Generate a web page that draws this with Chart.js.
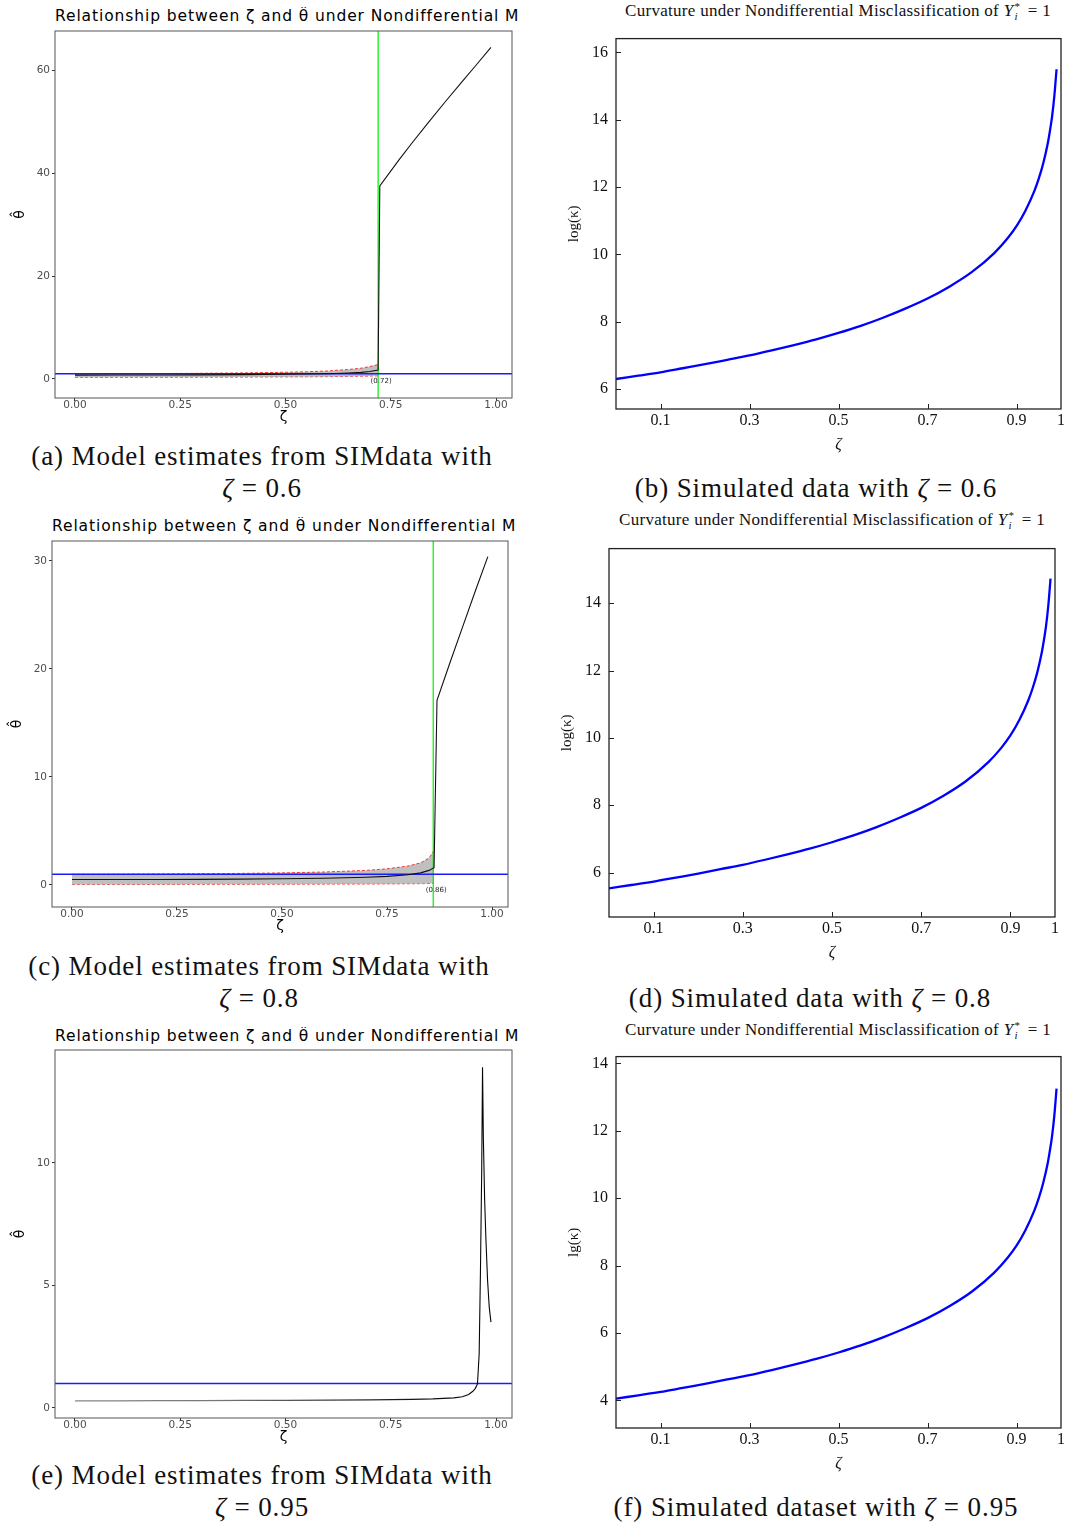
<!DOCTYPE html>
<html>
<head>
<meta charset="utf-8">
<script src="https://cdn.jsdelivr.net/npm/chart.js@4.4.0/dist/chart.umd.min.js"></script>
<style>
  body { margin: 0; background: #fff; width: 1071px; height: 1522px; position: relative; overflow: hidden; }
  canvas { position: absolute; }
  .ttl-l { position: absolute; font-family: "DejaVu Sans"; font-size: 15.5px; letter-spacing: 0.9px; line-height: 18px; white-space: nowrap; overflow: hidden; color: #000; }
  .ttl-r { position: absolute; font-family: "Liberation Serif"; font-size: 17px; letter-spacing: 0.3px; line-height: 20px; white-space: nowrap; transform: translateX(-50%); color: #111; }
  .ss { display: inline-flex; flex-direction: column; font-size: 11px; line-height: 10px; vertical-align: 6px; margin-right: 3px; margin-left: 1px; }
  .cap { position: absolute; font-family: "Liberation Serif"; font-size: 27px; letter-spacing: 0.9px; line-height: 32px; white-space: nowrap; text-align: center; transform: translateX(-50%); color: #111; }
</style>
</head>
<body>
<div class="ttl-l" style="left:55px;top:7px;width:463px">Relationship between ζ and θ̂ under Nondifferential Misclassification</div>
<div class="ttl-l" style="left:52px;top:517px;width:463px">Relationship between ζ and θ̂ under Nondifferential Misclassification</div>
<div class="ttl-l" style="left:55px;top:1027px;width:463px">Relationship between ζ and θ̂ under Nondifferential Misclassification</div>

<div class="ttl-r" style="left:838px;top:1px">Curvature under Nondifferential Misclassification of <i>Y</i><span class="ss"><span>*</span><i>i</i></span> = 1</div>
<div class="ttl-r" style="left:832px;top:510px">Curvature under Nondifferential Misclassification of <i>Y</i><span class="ss"><span>*</span><i>i</i></span> = 1</div>
<div class="ttl-r" style="left:838px;top:1020px">Curvature under Nondifferential Misclassification of <i>Y</i><span class="ss"><span>*</span><i>i</i></span> = 1</div>

<div class="cap" style="left:262px;top:440px">(a) Model estimates from SIMdata with<br><i>ζ</i> = 0.6</div>
<div class="cap" style="left:816px;top:472px">(b) Simulated data with <i>ζ</i> = 0.6</div>
<div class="cap" style="left:259px;top:950px">(c) Model estimates from SIMdata with<br><i>ζ</i> = 0.8</div>
<div class="cap" style="left:810px;top:982px">(d) Simulated data with <i>ζ</i> = 0.8</div>
<div class="cap" style="left:262px;top:1459px">(e) Model estimates from SIMdata with<br><i>ζ</i> = 0.95</div>
<div class="cap" style="left:816px;top:1491px">(f) Simulated dataset with <i>ζ</i> = 0.95</div>

<script>
// shared axes for the left (ggplot) panels
const xTicksLeft = [0, 0.25, 0.5, 0.75, 1];
const xRangeLeft = [-0.0475, 1.038];
const thetaRef = 1;

// (a) zeta = 0.6
const zetaA = [0, 0.1, 0.2, 0.3, 0.4, 0.5, 0.55, 0.6, 0.65, 0.68, 0.7, 0.72, 0.724, 0.77, 0.8, 0.84, 0.88, 0.92, 0.95, 0.988];
const thetaA = [0.75, 0.76, 0.78, 0.8, 0.84, 0.9, 0.95, 1.02, 1.15, 1.28, 1.45, 1.75, 37.5, 42.6, 45.8, 49.9, 53.9, 57.8, 60.7, 64.4];
const bandZetaA = [0, 0.1, 0.2, 0.3, 0.4, 0.5, 0.55, 0.6, 0.65, 0.68, 0.7, 0.72];
const lowerA = [0.3, 0.31, 0.32, 0.34, 0.36, 0.4, 0.42, 0.45, 0.5, 0.53, 0.56, 0.6];
const upperA = [1.0, 1.02, 1.05, 1.1, 1.18, 1.3, 1.4, 1.55, 1.85, 2.1, 2.4, 2.8];
const cutA = 0.72;
const yTicksA = [0, 20, 40, 60];
const yRangeA = [-3.7, 67.6];

// (c) zeta = 0.8
const zetaC = [0, 0.1, 0.2, 0.3, 0.4, 0.5, 0.6, 0.7, 0.75, 0.8, 0.83, 0.85, 0.862, 0.869, 0.9, 0.93, 0.96, 0.99];
const thetaC = [0.5, 0.5, 0.51, 0.52, 0.54, 0.57, 0.62, 0.72, 0.8, 0.95, 1.12, 1.35, 1.6, 17.1, 20.6, 23.9, 27.2, 30.4];
const bandZetaC = [0, 0.1, 0.2, 0.3, 0.4, 0.5, 0.6, 0.7, 0.75, 0.8, 0.83, 0.85, 0.862];
const lowerC = [0.05, 0.05, 0.05, 0.06, 0.06, 0.07, 0.08, 0.09, 0.1, 0.11, 0.12, 0.13, 0.15];
const upperC = [1.0, 1.0, 1.02, 1.04, 1.07, 1.12, 1.2, 1.35, 1.5, 1.75, 2.05, 2.5, 3.2];
const cutC = 0.86;
const yTicksC = [0, 10, 20, 30];
const yRangeC = [-2.04, 31.85];

// (e) zeta = 0.95
const zetaE = [0, 0.1, 0.2, 0.3, 0.4, 0.5, 0.6, 0.7, 0.8, 0.85, 0.9, 0.92, 0.935, 0.945, 0.951, 0.956, 0.96, 0.963, 0.966, 0.968, 0.97, 0.973, 0.976, 0.98, 0.984, 0.988];
const thetaE = [0.29, 0.29, 0.3, 0.3, 0.31, 0.31, 0.32, 0.33, 0.35, 0.37, 0.41, 0.46, 0.55, 0.68, 0.8, 0.98, 2.2, 5.5, 9.6, 13.9, 11.0, 8.5, 6.9, 5.2, 4.1, 3.5];
const yTicksE = [0, 5, 10];
const yRangeE = [-0.41, 14.6];

// right (pgfplots) panels: log curvature
const xTicksRight = [0.1, 0.3, 0.5, 0.7, 0.9, 1];
const xRangeRight = [0, 1];
const zetaRight = [0, 0.05, 0.1, 0.15, 0.2, 0.25, 0.3, 0.35, 0.4, 0.45, 0.5, 0.55, 0.6, 0.65, 0.7, 0.75, 0.8, 0.85, 0.88, 0.9, 0.92, 0.94, 0.95, 0.96, 0.97, 0.975, 0.98, 0.985, 0.99];
const kappaB = [6.3, 6.4, 6.5, 6.62, 6.74, 6.87, 7.0, 7.15, 7.31, 7.48, 7.67, 7.88, 8.12, 8.39, 8.69, 9.05, 9.48, 10.04, 10.48, 10.84, 11.3, 11.88, 12.25, 12.7, 13.28, 13.66, 14.1, 14.7, 15.5];
const kappaD = [5.53, 5.63, 5.73, 5.85, 5.97, 6.1, 6.23, 6.38, 6.54, 6.71, 6.9, 7.11, 7.35, 7.62, 7.92, 8.28, 8.71, 9.27, 9.71, 10.07, 10.53, 11.11, 11.48, 11.93, 12.51, 12.89, 13.33, 13.93, 14.73];
const kappaF = [4.05, 4.15, 4.25, 4.37, 4.49, 4.62, 4.75, 4.9, 5.06, 5.23, 5.42, 5.63, 5.87, 6.14, 6.44, 6.8, 7.23, 7.79, 8.23, 8.59, 9.05, 9.63, 10.0, 10.45, 11.03, 11.41, 11.85, 12.45, 13.25];
const yTicksB = [6, 8, 10, 12, 14, 16];
const yTicksD = [6, 8, 10, 12, 14];
const yTicksF = [4, 6, 8, 10, 12, 14];
const yRangeB = [5.41, 16.41];
const yRangeD = [4.68, 15.62];
const yRangeF = [3.18, 14.2];

function pts(xs, ys) { return xs.map((x, i) => ({ x: x, y: ys[i] })); }

function makeCanvas(g) {
  const c = document.createElement('canvas');
  const left = g.L - g.yw, top = g.T - g.padTop;
  const w = g.yw + (g.R - g.L) + g.padRight, h = g.padTop + (g.B - g.T) + g.xh;
  c.width = w; c.height = h;
  c.style.left = left + 'px'; c.style.top = top + 'px';
  c.style.width = w + 'px'; c.style.height = h + 'px';
  document.body.appendChild(c);
  return c;
}

// box around the plot area, plus inward ticks for the pgfplots look
const framePlugin = {
  id: 'frame',
  afterDatasetsDraw(chart, args, opts) {
    const { ctx, chartArea: a } = chart;
    ctx.save();
    ctx.strokeStyle = opts.color; ctx.lineWidth = opts.width;
    ctx.strokeRect(a.left, a.top, a.right - a.left, a.bottom - a.top);
    if (opts.inside) {
      const xs = chart.scales.x, ys = chart.scales.y;
      ctx.lineWidth = 1;
      ctx.beginPath();
      for (const t of xs.ticks) {
        const px = Math.round(xs.getPixelForValue(t.value)) + 0.5;
        if (px >= a.right - 1) continue;
        ctx.moveTo(px, a.bottom); ctx.lineTo(px, a.bottom - 5);
      }
      for (const t of ys.ticks) {
        const py = Math.round(ys.getPixelForValue(t.value)) + 0.5;
        ctx.moveTo(a.left, py); ctx.lineTo(a.left + 5, py);
      }
      ctx.stroke();
    }
    ctx.restore();
  }
};

const cutLabelPlugin = {
  id: 'cutLabel',
  afterDatasetsDraw(chart, args, opts) {
    if (!opts.text) return;
    const { ctx } = chart;
    const x = chart.scales.x.getPixelForValue(opts.at);
    const y = chart.scales.y.getPixelForValue(opts.y);
    ctx.save();
    ctx.font = '7px "DejaVu Sans"';
    ctx.fillStyle = '#222';
    ctx.textAlign = 'center'; ctx.textBaseline = 'middle';
    ctx.fillText(opts.text, x + 3, y);
    ctx.restore();
  }
};

function leftPanel(g, s) {
  const canvas = makeCanvas(g);
  let lineColor = '#111';
  if (s.fade) {
    // panel (e): grey at the left, black near the spike
    const grad = canvas.getContext('2d').createLinearGradient(g.yw, 0, g.yw + (g.R - g.L), 0);
    grad.addColorStop(0, '#888');
    grad.addColorStop(0.35, '#777');
    grad.addColorStop(0.8, '#111');
    grad.addColorStop(1, '#000');
    lineColor = grad;
  }
  const datasets = [
    { data: pts(s.zeta, s.theta), borderColor: lineColor, borderWidth: 1.1, pointRadius: 0, tension: 0 },
    { data: [{ x: xRangeLeft[0], y: thetaRef }, { x: xRangeLeft[1], y: thetaRef }], borderColor: '#1a1aff', borderWidth: 1.5, pointRadius: 0 }
  ];
  if (s.cut !== undefined) {
    datasets.push({ data: [{ x: s.cut, y: s.yRange[0] }, { x: s.cut, y: s.yRange[1] }], borderColor: '#00ee00', borderWidth: 1.2, pointRadius: 0 });
  }
  if (s.bandZeta) {
    datasets.push({ data: pts(s.bandZeta, s.upper), borderColor: 'rgba(255,0,0,0.75)', borderDash: [3, 2], borderWidth: 1, pointRadius: 0, fill: '+1', backgroundColor: 'rgba(170,170,170,0.75)' });
    datasets.push({ data: pts(s.bandZeta, s.lower), borderColor: 'rgba(255,0,0,0.75)', borderDash: [3, 2], borderWidth: 1, pointRadius: 0, fill: false });
  }
  new Chart(canvas, {
    type: 'line',
    data: { datasets: datasets },
    plugins: [framePlugin, cutLabelPlugin],
    options: {
      responsive: false, animation: false, devicePixelRatio: 1,
      layout: { padding: { left: 0, top: g.padTop, right: g.padRight, bottom: 0 } },
      plugins: {
        legend: { display: false }, tooltip: { enabled: false },
        frame: { color: '#555', width: 1, inside: false },
        cutLabel: s.cut !== undefined ? { text: '(' + s.cut.toFixed(2) + ')', at: s.cut, y: -0.5 } : {}
      },
      scales: {
        x: {
          type: 'linear', min: xRangeLeft[0], max: xRangeLeft[1],
          afterBuildTicks: sc => { sc.ticks = xTicksLeft.map(v => ({ value: v })); },
          afterFit: sc => { sc.height = g.xh; },
          grid: { drawOnChartArea: false, drawTicks: true, tickLength: 3, color: '#333' },
          border: { display: false },
          ticks: { padding: -1, color: '#4d4d4d', autoSkip: false, maxRotation: 0, font: { family: 'DejaVu Sans', size: 10.5, lineHeight: 1 }, callback: v => Number(v).toFixed(2) },
          title: { display: true, text: 'ζ', color: '#000', font: { family: 'DejaVu Sans', size: 14 }, padding: { top: 0, bottom: 3 } }
        },
        y: {
          type: 'linear', min: s.yRange[0], max: s.yRange[1],
          afterBuildTicks: sc => { sc.ticks = s.yTicks.map(v => ({ value: v })); },
          afterFit: sc => { sc.width = g.yw; },
          grid: { drawOnChartArea: false, drawTicks: true, tickLength: 3, color: '#333' },
          border: { display: false },
          ticks: { padding: 2, color: '#4d4d4d', font: { family: 'DejaVu Sans', size: 10.5 }, callback: v => String(v) },
          title: { display: true, text: 'θ̂', color: '#000', font: { family: 'DejaVu Sans', size: 14 }, padding: { top: 12, bottom: 0 } }
        }
      }
    }
  });
}

function rightPanel(g, s) {
  const canvas = makeCanvas(g);
  new Chart(canvas, {
    type: 'line',
    data: { datasets: [{ data: pts(zetaRight, s.kappa), borderColor: '#0000ff', borderWidth: 2.3, pointRadius: 0, cubicInterpolationMode: 'monotone' }] },
    plugins: [framePlugin],
    options: {
      responsive: false, animation: false, devicePixelRatio: 1,
      layout: { padding: { left: 0, top: g.padTop, right: g.padRight, bottom: 0 } },
      plugins: {
        legend: { display: false }, tooltip: { enabled: false },
        frame: { color: '#222', width: 1.3, inside: true }
      },
      scales: {
        x: {
          type: 'linear', min: xRangeRight[0], max: xRangeRight[1],
          afterBuildTicks: sc => { sc.ticks = xTicksRight.map(v => ({ value: v })); },
          afterFit: sc => { sc.height = g.xh; },
          grid: { drawOnChartArea: false, drawTicks: false },
          border: { display: false },
          ticks: { padding: 4, color: '#111', autoSkip: false, maxRotation: 0, font: { family: 'Liberation Serif', size: 16, lineHeight: 1 }, callback: v => String(v) },
          title: { display: true, text: 'ζ', color: '#111', font: { family: 'Liberation Serif', size: 16, style: 'italic' }, padding: { top: 0, bottom: 3 } }
        },
        y: {
          type: 'linear', min: s.yRange[0], max: s.yRange[1],
          afterBuildTicks: sc => { sc.ticks = s.yTicks.map(v => ({ value: v })); },
          afterFit: sc => { sc.width = g.yw; },
          grid: { drawOnChartArea: false, drawTicks: false },
          border: { display: false },
          ticks: { padding: 8, color: '#111', font: { family: 'Liberation Serif', size: 16 }, callback: v => String(v) },
          title: { display: true, text: s.ylabel, color: '#111', font: { family: 'Liberation Serif', size: 15 }, padding: { top: 25, bottom: 0 } }
        }
      }
    }
  });
}

const leftBox = { yw: 55, padTop: 10, padRight: 20, xh: 31 };
const rightBox = { yw: 76, padTop: 14, xh: 48 };

leftPanel(Object.assign({ L: 55, T: 31, R: 512, B: 398 }, leftBox),
  { zeta: zetaA, theta: thetaA, bandZeta: bandZetaA, lower: lowerA, upper: upperA, cut: cutA, yTicks: yTicksA, yRange: yRangeA });
leftPanel(Object.assign({ L: 52, T: 541, R: 508, B: 907 }, leftBox),
  { zeta: zetaC, theta: thetaC, bandZeta: bandZetaC, lower: lowerC, upper: upperC, cut: cutC, yTicks: yTicksC, yRange: yRangeC });
leftPanel(Object.assign({ L: 55, T: 1050, R: 512, B: 1418 }, leftBox),
  { zeta: zetaE, theta: thetaE, fade: true, yTicks: yTicksE, yRange: yRangeE });

rightPanel(Object.assign({ L: 616, T: 35, R: 1061, B: 409, padRight: 10 }, rightBox),
  { kappa: kappaB, yTicks: yTicksB, yRange: yRangeB, ylabel: 'log(κ)' });
rightPanel(Object.assign({ L: 609, T: 545, R: 1055, B: 917, padRight: 16 }, rightBox),
  { kappa: kappaD, yTicks: yTicksD, yRange: yRangeD, ylabel: 'log(κ)' });
rightPanel(Object.assign({ L: 616, T: 1053, R: 1061, B: 1428, padRight: 10 }, rightBox),
  { kappa: kappaF, yTicks: yTicksF, yRange: yRangeF, ylabel: 'lg(κ)' });
</script>
</body>
</html>
